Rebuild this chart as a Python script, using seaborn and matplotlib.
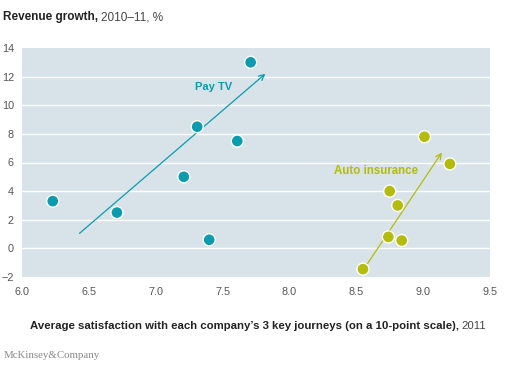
import matplotlib
matplotlib.use("Agg")
import matplotlib.pyplot as plt
import seaborn as sns
import pandas as pd

# Data
paytv_x = [6.23, 6.71, 7.21, 7.31, 7.40, 7.61, 7.71]
paytv_y = [3.3, 2.5, 5.0, 8.5, 0.6, 7.5, 13.0]
auto_x = [9.01, 9.20, 8.75, 8.81, 8.74, 8.84, 8.55]
auto_y = [7.8, 5.9, 4.0, 3.0, 0.8, 0.55, -1.45]
paytv_trend = [(6.43, 1.05), (7.82, 12.2)]
auto_trend = [(8.56, -1.4), (9.14, 6.7)]
x_ticks = [6.0, 6.5, 7.0, 7.5, 8.0, 8.5, 9.0, 9.5]
y_ticks = [-2, 0, 2, 4, 6, 8, 10, 12, 14]

TEAL = "#0a9cae"
OLIVE = "#b3bb0c"
BG = "#d8e3e9"

sns.set_theme(style="white")
plt.rcParams['font.family'] = ['Liberation Sans', 'DejaVu Sans']

df = pd.DataFrame({
    "x": paytv_x + auto_x,
    "y": paytv_y + auto_y,
    "group": ["Pay TV"] * len(paytv_x) + ["Auto insurance"] * len(auto_x),
})

fig = plt.figure(figsize=(5.1, 3.75), dpi=100)
ax = fig.add_axes([22 / 510, 1 - 277 / 375, 468 / 510, 229 / 375])
ax.set_facecolor(BG)
for s in ax.spines.values():
    s.set_visible(False)

for yv in y_ticks[1:-1]:
    ax.axhline(yv, color="white", lw=1.0, zorder=0)

sns.scatterplot(data=df, x="x", y="y", hue="group",
                palette={"Pay TV": TEAL, "Auto insurance": OLIVE},
                s=75, edgecolor="white", linewidth=1.0, legend=False, ax=ax, zorder=3)

for (p0, p1), c in [(paytv_trend, TEAL), (auto_trend, OLIVE)]:
    ax.annotate("", xy=p1, xytext=p0,
                arrowprops=dict(arrowstyle="->", color=c, lw=0.9,
                                mutation_scale=10, shrinkA=0, shrinkB=0),
                zorder=2)

ax.text(7.43, 11.3, "Pay TV", color=TEAL, fontsize=8, fontweight="bold",
        ha="center", va="center")
ax.text(8.65, 5.4, "Auto insurance", color=OLIVE, fontsize=8.3, fontweight="bold",
        ha="center", va="center")

ax.set_xlim(6.0, 9.5)
ax.set_ylim(-2, 14)
ax.set_xticks(x_ticks)
ax.set_yticks(y_ticks)
ax.set_xticklabels([f"{v:.1f}" for v in x_ticks])
ax.set_yticklabels([f"{v}".replace("-", "\u2212") for v in y_ticks])
ax.tick_params(axis="x", direction="in", length=3, color="#9aa5ab",
               labelsize=7.8, labelcolor="#555555", pad=7)
ax.tick_params(axis="y", length=0, labelsize=7.8, labelcolor="#555555", pad=5.8)
ax.set_xlabel("")
ax.set_ylabel("")

fig.canvas.draw()
r = fig.canvas.get_renderer()

def two_part(x, y, bold, normal, ha="left", size=8):
    t1 = fig.text(x, y, bold, fontsize=size, fontweight="bold", color="#222222",
                  ha="left", va="center")
    bb = t1.get_window_extent(r)
    t2 = fig.text(0, y, normal, fontsize=size, color="#444444", ha="left", va="center")
    bb2 = t2.get_window_extent(r)
    total = bb.width + bb2.width
    if ha == "center":
        x0 = x * 510 - total / 2
    else:
        x0 = x * 510
    t1.set_x(x0 / 510)
    t2.set_x((x0 + bb.width) / 510)

two_part(3 / 510, 1 - 17 / 375, "Revenue growth, ", "2010\u201311, %", size=8.5)
two_part(258 / 510, 1 - 326 / 375,
         "Average satisfaction with each company\u2019s 3 key journeys (on a 10-point scale), ",
         "2011", ha="center", size=8.2)
fig.text(4 / 510, 1 - 356 / 375, "McKinsey&Company", family=["Liberation Serif", "DejaVu Serif"],
         fontsize=7.8, color="#8a8a8a", ha="left", va="center")

fig.savefig("out.png", dpi=100, facecolor="white")
